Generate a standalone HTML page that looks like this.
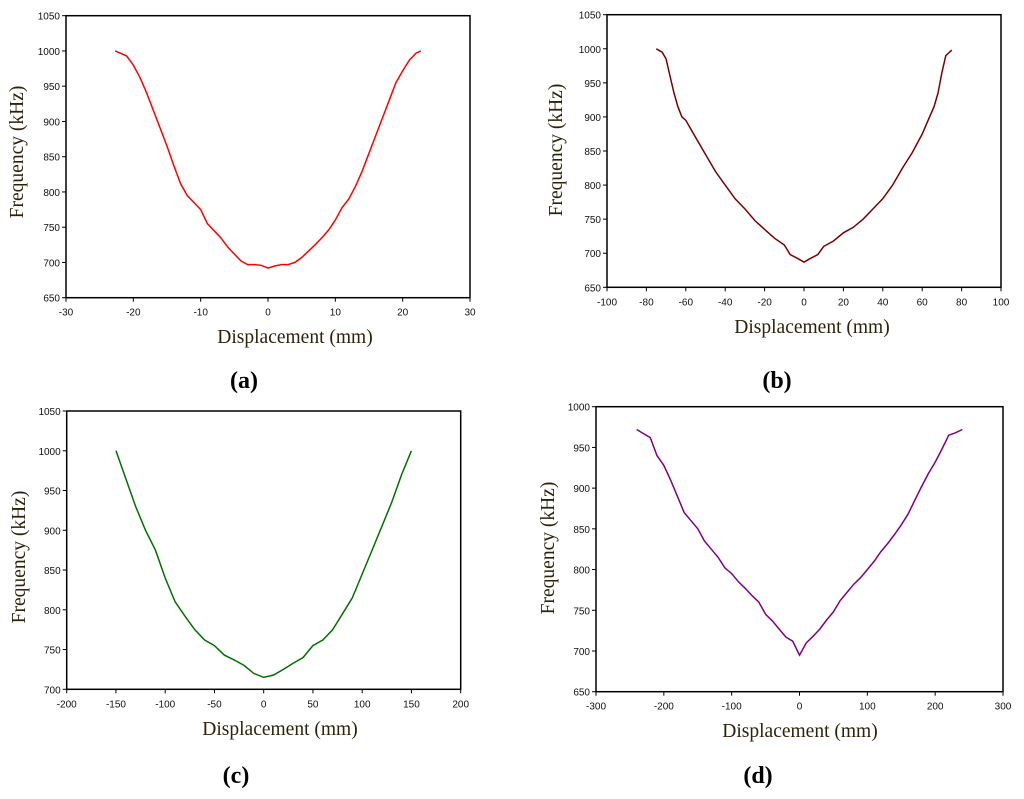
<!DOCTYPE html>
<html><head><meta charset="utf-8"><style>
html,body{margin:0;padding:0;background:#fff;}
svg{display:block;}
.tick{font-family:"Liberation Sans",sans-serif;font-size:10px;fill:#111;}
.ttl{font-family:"Liberation Serif",serif;font-size:19.5px;fill:#2e220c;}
.lab{font-family:"Liberation Serif",serif;font-size:24px;font-weight:bold;fill:#000;}
</style></head><body>
<svg id="fig" width="1024" height="799" viewBox="0 0 1024 799" xmlns="http://www.w3.org/2000/svg"></svg>
<script>
const aX=[-22.7,-21,-20,-19,-18,-17,-16,-15,-14,-13,-12,-11,-10,-9,-8,-7,-6,-5,-4,-3,-2,-1,0,1,2,3,4,5,6,7,8,9,10,11,12,13,14,15,16,17,18,19,20,21,22,22.7];
const aY=[1000,993,980,962,940,915,890,865,838,812,795,785,775,755,745,735,722,712,702,697,697,696,692,695,697,697,700,707,716,725,735,746,760,778,790,808,830,855,880,905,930,955,972,987,997,1000];
const bX=[-75,-72,-70,-68,-66,-64,-62,-60,-55,-50,-45,-40,-35,-30,-25,-20,-15,-10,-7,-3,0,3,7,10,15,20,25,30,35,40,45,50,55,60,63,66,68,70,72,75];
const bY=[1000,995,985,960,935,915,900,895,870,845,820,800,780,765,748,735,722,712,698,692,687,692,698,710,718,730,738,750,765,780,800,825,848,875,895,915,935,965,990,998];
const cX=[-150,-140,-130,-120,-110,-100,-90,-80,-70,-60,-50,-40,-30,-20,-10,0,10,20,30,40,50,60,70,80,90,100,110,120,130,140,150];
const cY=[1000,965,930,900,875,840,810,792,775,762,755,743,737,730,720,715,718,725,733,740,755,762,775,795,815,845,875,905,935,970,1000];
const dX=[-240,-230,-220,-210,-200,-190,-180,-170,-160,-150,-140,-130,-120,-110,-100,-90,-80,-70,-60,-50,-40,-30,-20,-10,0,10,20,30,40,50,60,70,80,90,100,110,120,130,140,150,160,170,180,190,200,210,220,230,240];
const dY=[972,967,962,940,928,910,890,870,860,850,835,825,815,802,795,785,777,768,760,745,737,727,717,712,695,710,718,727,738,748,762,772,782,790,800,810,822,832,843,855,868,885,902,918,932,948,965,968,972];
const aXT=[-30,-20,-10,0,10,20,30], aYT=[650,700,750,800,850,900,950,1000,1050];
const bXT=[-100,-80,-60,-40,-20,0,20,40,60,80,100], bYT=[650,700,750,800,850,900,950,1000,1050];
const cXT=[-200,-150,-100,-50,0,50,100,150,200], cYT=[700,750,800,850,900,950,1000,1050];
const dXT=[-300,-200,-100,0,100,200,300], dYT=[650,700,750,800,850,900,950,1000];

const NS="http://www.w3.org/2000/svg";
const svg=document.getElementById('fig');
function mk(t,a,p){const e=document.createElementNS(NS,t);for(const k in a)e.setAttribute(k,a[k]);(p||svg).appendChild(e);return e;}
function panel(id,box,xs,ys,xt,yt,color,ytx,yty,xtx,xty,lab,lx,ly){
  const g=mk('g',{});
  
  
  const [L,R,T,B]=box;
  const x0=xt[0],x1=xt[xt.length-1],y0=yt[0],y1=yt[yt.length-1];
  const sx=v=>L+(v-x0)/(x1-x0)*(R-L), sy=v=>B-(v-y0)/(y1-y0)*(B-T);
  const fr=mk('rect',{x:L,y:T,width:R-L,height:B-T,fill:'none',stroke:'#000','stroke-width':1.5},g);
  
  
  xt.forEach(v=>{mk('line',{x1:sx(v),x2:sx(v),y1:B,y2:B+4,stroke:'#000'},g);
    const t=mk('text',{x:sx(v),y:B+18,'text-anchor':'middle',class:'tick'},g);t.textContent=v;
    
    });
  yt.forEach(v=>{mk('line',{x1:L-4,x2:L,y1:sy(v),y2:sy(v),stroke:'#000'},g);
    const t=mk('text',{x:L-6,y:sy(v)+4,'text-anchor':'end',class:'tick'},g);t.textContent=v;
    
    });
  const pts=xs.map((v,i)=>sx(v).toFixed(1)+','+sy(ys[i]).toFixed(1)).join(' ');
  const pl=mk('polyline',{points:pts,fill:'none',stroke:color,'stroke-width':1.5},g);
  
  
  const yt2=mk('text',{x:ytx,y:yty,'text-anchor':'middle',class:'ttl',transform:`rotate(-90 ${ytx} ${yty})`},g);
  yt2.textContent='Frequency (kHz)';
  
  
  const xt2=mk('text',{x:xtx,y:xty,'text-anchor':'middle',class:'ttl'},g);
  xt2.textContent='Displacement (mm)';
  
  
  const lb=mk('text',{x:lx,y:ly,'text-anchor':'middle',class:'lab'},g);
  lb.textContent='('+lab+')';
  
  
}
panel('a',[66,470,15.7,297.7],aX,aY,aXT,aYT,'#ff0000',23,152,295,343,'a',244,388);
panel('b',[607,1001,14.7,287.3],bX,bY,bXT,bYT,'#7a0000',562,150,812,333,'b',777,388);
panel('c',[66.7,460.7,411,689.3],cX,cY,cXT,cYT,'#007000',25,557,280,735,'c',236,783);
panel('d',[596,1003,406.7,691.7],dX,dY,dXT,dYT,'#800080',554,548,800,737,'d',758,783);
</script>
</body></html>
